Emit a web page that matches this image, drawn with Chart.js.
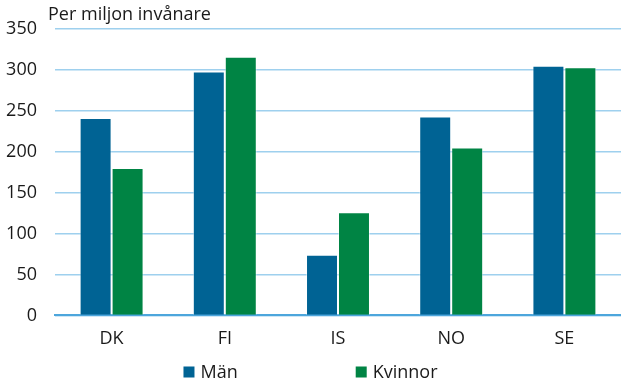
<!DOCTYPE html>
<html>
<head>
<meta charset="utf-8">
<script src="https://cdn.jsdelivr.net/npm/chart.js@4/dist/chart.umd.min.js"></script>
<style>
  html, body { margin: 0; padding: 0; background: #fff; }
  #wrap { width: 621px; height: 383px; }
</style>
</head>
<body>
<div id="wrap"><canvas id="myChart" width="621" height="383"></canvas></div>
<script>
const countries = ['DK', 'FI', 'IS', 'NO', 'SE'];
const man = [241, 298, 74, 243, 305];
const kvinnor = [180, 316, 126, 205, 303];
const yTicks = [0, 50, 100, 150, 200, 250, 300, 350];
const unitLabel = 'Per miljon invånare';

const FONT = "'Open Sans', sans-serif";
const FONT_SIZE = 18;
const BLUE = '#006394';
const GREEN = '#008444';

// rubriken ovanför y-axeln
const unitTitle = {
    id: 'unitTitle',
    afterDraw(chart) {
        const ctx = chart.ctx;
        ctx.save();
        ctx.font = FONT_SIZE + 'px ' + FONT;
        ctx.fillStyle = '#1a1a1a';
        ctx.textBaseline = 'middle';
        ctx.textAlign = 'left';
        ctx.fillText(unitLabel, 48, 15);
        ctx.restore();
    }
};

// förklaring längst ner, med stort mellanrum mellan posterna
const bottomLegend = {
    id: 'bottomLegend',
    afterDraw(chart) {
        const ctx = chart.ctx;
        const box = 11, gap = 6, spacing = 118;
        const y = 372;
        ctx.save();
        ctx.font = FONT_SIZE + 'px ' + FONT;
        ctx.textBaseline = 'middle';
        const items = chart.data.datasets.map(ds => ({
            text: ds.label, color: ds.backgroundColor,
            w: box + gap + ctx.measureText(ds.label).width
        }));
        let total = items.reduce((s, it) => s + it.w, 0) + spacing * (items.length - 1);
        let x = (chart.width - total) / 2;
        items.forEach(it => {
            ctx.fillStyle = it.color;
            ctx.fillRect(x, y - box / 2, box, box);
            ctx.fillStyle = '#1a1a1a';
            ctx.fillText(it.text, x + box + gap, y + 1);
            x += it.w + spacing;
        });
        ctx.restore();
    }
};

const ctx = document.getElementById('myChart').getContext('2d');
new Chart(ctx, {
    type: 'bar',
    data: {
        labels: countries,
        datasets: [
            {
                label: 'Män',
                data: man,
                backgroundColor: BLUE,
                borderColor: 'rgba(255,255,255,0.45)',
                borderWidth: 1
            },
            {
                label: 'Kvinnor',
                data: kvinnor,
                backgroundColor: GREEN,
                borderColor: 'rgba(255,255,255,0.45)',
                borderWidth: 1
            }
        ]
    },
    options: {
        responsive: false,
        animation: false,
        layout: { padding: { top: 24, right: 0, bottom: 20, left: 0 } },
        datasets: {
            bar: { categoryPercentage: 0.565, barPercentage: 1 }
        },
        plugins: {
            legend: { display: false },
            tooltip: { enabled: false },
            title: { display: false }
        },
        scales: {
            x: {
                grid: { display: false, drawTicks: false },
                border: { display: true, color: '#4da6dc', width: 2 },
                ticks: {
                    color: '#1a1a1a',
                    font: { family: FONT, size: FONT_SIZE },
                    padding: 13
                }
            },
            y: {
                min: 0,
                max: 350,
                afterFit(axis) { axis.width = 55; },
                afterBuildTicks(axis) { axis.ticks = yTicks.map(v => ({ value: v })); },
                border: { display: false },
                grid: {
                    drawTicks: false,
                    color: '#9ed0ee',
                    lineWidth: 1.5
                },
                ticks: {
                    color: '#1a1a1a',
                    font: { family: FONT, size: FONT_SIZE },
                    padding: 18
                }
            }
        }
    },
    plugins: [unitTitle, bottomLegend]
});
</script>
</body>
</html>
